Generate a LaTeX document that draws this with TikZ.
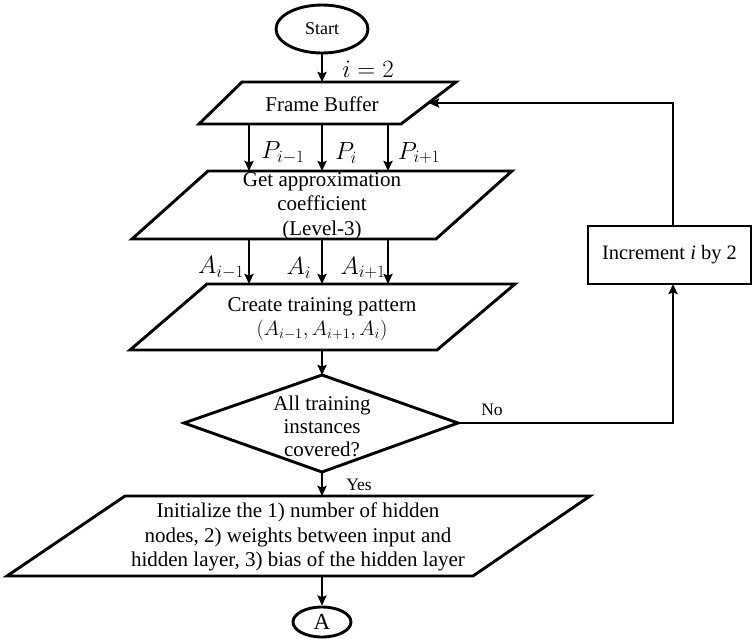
\documentclass[tikz,border=0pt]{standalone}
\usepackage{fontspec}
\setmainfont{Liberation Serif}
\usetikzlibrary{arrows.meta,calc,shapes.geometric}
\begin{document}
\begin{tikzpicture}[x=1pt,y=-1pt,line width=2.9pt,line join=miter,
  box/.style={draw,line width=2.9pt},
  arr/.style={-{Stealth[length=10pt,width=9pt,inset=1.5pt]},line width=2.7pt},
  txt/.style={font=\fontsize{21}{24.5}\selectfont,align=center,inner sep=0pt},
  mlab/.style={font=\fontsize{23}{26}\selectfont,inner sep=0pt},
  small/.style={font=\fontsize{17.5}{20}\selectfont,inner sep=0pt}]
\useasboundingbox (0,0) rectangle (753,638);

% Start / end terminals
\node[draw,ellipse,line width=2.9pt,minimum width=92pt,minimum height=48pt,inner sep=0pt,
      font=\fontsize{18}{20}\selectfont] (start) at (322,29) {Start};
\node[draw,ellipse,line width=2.9pt,minimum width=58pt,minimum height=30pt,inner sep=0pt,
      font=\fontsize{23}{24}\selectfont] (endA) at (322,622) {A};

% Frame Buffer
\coordinate (fb1) at (242,82); \coordinate (fb2) at (456,82);
\coordinate (fb3) at (401,124); \coordinate (fb4) at (199,124);
\draw[box] (fb1) -- (fb2) -- (fb3) -- (fb4) -- cycle;
\node[txt] (fb) at (322,104) {Frame Buffer};

% Get approximation
\coordinate (ga1) at (208,171); \coordinate (ga2) at (512,171);
\coordinate (ga3) at (436,239); \coordinate (ga4) at (132,239);
\draw[box] (ga1) -- (ga2) -- (ga3) -- (ga4) -- cycle;
\node[txt] (ga) at (322,206) {Get approximation\\coefficient\\(Level-3)};

% Create training pattern
\coordinate (ct1) at (207,284); \coordinate (ct2) at (515,284);
\coordinate (ct3) at (437,350); \coordinate (ct4) at (130,350);
\draw[box] (ct1) -- (ct2) -- (ct3) -- (ct4) -- cycle;
\node[txt] (ct) at (322,319) {Create training pattern\\$(A_{i-1},A_{i+1},A_i)$};

% Decision
\coordinate (dL) at (184,423); \coordinate (dT) at (322,375);
\coordinate (dR) at (458,423); \coordinate (dB) at (322,472);
\draw[box] (dL) -- (dT) -- (dR) -- (dB) -- cycle;
\node[txt,font=\fontsize{21}{23}\selectfont] (dec) at (322,426) {All training\\instances\\covered?};

% Initialize
\coordinate (in1) at (125,496); \coordinate (in2) at (590,496);
\coordinate (in3) at (473,576); \coordinate (in4) at (7,576);
\draw[box] (in1) -- (in2) -- (in3) -- (in4) -- cycle;
\node[txt] (init) at (298,537) {Initialize the 1) number of hidden\\nodes, 2) weights between input and\\hidden layer, 3) bias of the hidden layer};

% Increment
\node[draw,line width=2.9pt,minimum width=163pt,minimum height=58pt,inner sep=0pt,
      font=\fontsize{20.5}{24}\selectfont] (inc) at (669.5,255) {Increment \textit{i} by 2};

% connectors
\draw[arr] (start.south) -- (322,82) coordinate (fbtop);
\node[mlab] (i2) at (368,69) {$i=2$};

\foreach \x/\n in {249/a,322/b,388/c}{
  \coordinate (p\n s) at (\x,124); \coordinate (p\n e) at (\x,171);
  \draw[arr] (p\n s) -- (p\n e);
  \coordinate (q\n s) at (\x,239); \coordinate (q\n e) at (\x,284);
  \draw[arr] (q\n s) -- (q\n e);
}
\node[mlab] (P1) at (283,153) {$P_{i-1}$};
\node[mlab] (P2) at (346,153) {$P_{i}$};
\node[mlab] (P3) at (419,153) {$P_{i+1}$};
\node[mlab] (A1) at (221,268) {$A_{i-1}$};
\node[mlab] (A2) at (299,268) {$A_{i}$};
\node[mlab] (A3) at (363,268) {$A_{i+1}$};

\coordinate (ctb) at (322,350);
\draw[arr] (ctb) -- (dT);
\draw[arr] (dB) -- (322,496) coordinate (intop);
\node[small] (yes) at (359,485) {Yes};
\coordinate (inb) at (322,576);
\draw[arr] (inb) -- (endA.north);

% No branch
\coordinate (nocorner) at (673,423);
\draw[arr] (dR) -- (nocorner) -- (673,284);
\node[small] (no) at (492,410) {No};

% Feedback
\coordinate (fbcorner) at (673,103);
\coordinate (fbin) at (429,103);
\draw[arr] (673,226) -- (fbcorner) -- (fbin);
\end{tikzpicture}
\end{document}
